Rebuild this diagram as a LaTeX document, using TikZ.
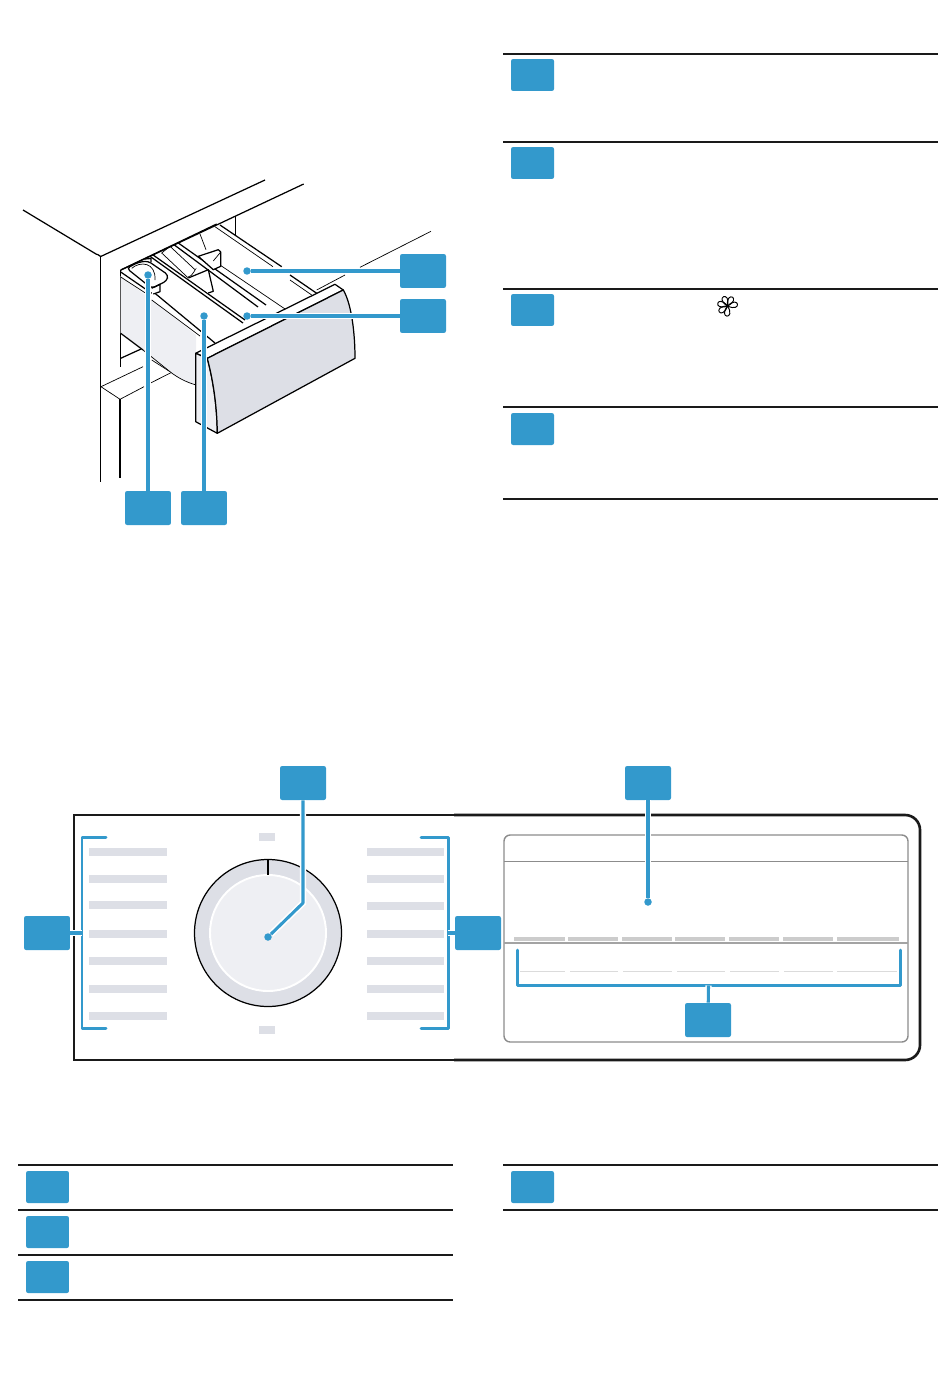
\documentclass[tikz,border=0pt]{standalone}
\usepackage{tikz}
\usetikzlibrary{arrows.meta, positioning, calc}
\definecolor{leadBlue}{HTML}{3399CC}
\definecolor{inkDark}{HTML}{1A1A1A}
\definecolor{paleGray}{HTML}{EEEFF3}
\definecolor{midGray}{HTML}{DDDFE6}
\definecolor{dispGray}{HTML}{8C8C8C}
\definecolor{barGray}{HTML}{CCCCCC}
\tikzset{
  badge/.style={rectangle, rounded corners=1.2pt, fill=leadBlue, inner sep=0pt,
                minimum width=.92cm, minimum height=.68cm},
  badgeS/.style={badge, minimum width=.86cm, minimum height=.64cm},
  leadDot/.style={circle, fill=leadBlue, inner sep=0pt, minimum size=.15cm},
  leadLine/.style={draw=leadBlue, line width=1.75pt, line join=round,
                   preaction={draw=white, line width=3.6pt}},
  bracketLine/.style={draw=leadBlue, line width=1.7pt, line join=round, line cap=round},
  tableRule/.style={draw=inkDark, line width=1.2pt},
  ink/.style={draw=black, line width=.7pt, line join=round},
  inkThin/.style={draw=black, line width=.4pt},
  listBar/.style={fill=midGray, draw=none},
  panelLine/.style={draw=inkDark, line width=1.5pt},
  dispLine/.style={draw=dispGray, line width=.8pt},
}
\begin{document}
\begin{tikzpicture}[x=.02cm, y=-.02cm]
  \useasboundingbox (0,0) rectangle (950,1392);

  % cabinet and shelf
  \draw[ink] (23,210) -- (96,254) to[out=30,in=180] (100.7,256.5) -- (265,180);
  \draw[ink] (100.7,256.5) -- (100.7,482);
  \draw[ink] (121,270) -- (303.7,184);
  \draw[ink] (235.7,216) -- (235.7,235);
  \draw[inkThin] (431,231.3) -- (360,267.3);
  \draw[inkThin] (345,275) -- (316.7,290);
  \draw[ink] (120.7,270) -- (120.7,367);
  \draw[ink] (120.7,358.3) -- (143.3,348);
  \draw[inkThin] (101,386.7) -- (120,399.3) -- (144,386.7);
  \draw[inkThin] (101,386.7) -- (143,366.7);
  \draw[inkThin] (150,383.3) -- (171.7,372.3);
  \draw[inkThin] (151.7,360) -- (170,371.7);
  \draw[ink] (120,399.3) -- (120,478.3);

  % drawer side
  \fill[paleGray] (120.7,276) -- (120.7,333.3) -- (170,371.7)
    .. controls (178,378) and (186,382) .. (196,385) -- (196,335) -- (151.7,300) -- cycle;
  \draw[ink] (120.7,333.3) -- (143,350);
  \draw[inkThin] (143,350) -- (170,371.7)
    .. controls (178,378) and (186,382) .. (196,385);

  % tray top
  \draw[ink] (120.7,270) -- (216.7,224);
  \draw[ink] (120.7,272) -- (151.7,293.3);
  \draw[inkThin] (120.7,277) -- (150,296);
  \draw[ink] (155,293.3) -- (215,343);
  \draw[inkThin] (151.7,300) -- (200,336);
  \draw[ink] (220,225) -- (281.7,266.7);
  \draw[ink] (290,275) -- (316.7,293.3);
  \draw[inkThin] (215,226.7) -- (273,266.7);
  \draw[inkThin] (290,280) -- (311.7,295);
  \draw[inkThin] (220,265) -- (285,309);
  \draw[ink] (178.3,243) -- (266,305);
  \draw[ink] (174,244.7) -- (258,307);
  \draw[ink] (152.7,254.7) -- (245,320);
  \draw[ink] (150,256.3) -- (243,323);

  % softener cover and flap
  \draw[inkThin] (161.7,253) -- (170,246.3) -- (195,269.7) to[out=60,in=0] (188.3,277);
  \draw[inkThin] (161.7,253) -- (188.3,278);
  \draw[ink, fill=white] (188.3,278) -- (208.3,269.7) -- (213.3,291.3) -- (208.3,293);
  \draw[inkThin] (200,234) -- (206,249.7);
  \draw[ink, fill=white] (198.3,256.3) -- (218.3,249.7) -- (220.7,252) -- (220.7,266.3) -- (213.3,269.7) -- cycle;
  \draw[inkThin] (213.3,261) -- (220.7,252);

  % detergent insert
  \draw[ink, rounded corners=2pt] (126.7,268.3) -- (138.3,262.3) -- (148,261) -- (168.3,275) -- (166.7,281) -- (151.7,288.3) -- cycle;
  \draw[inkThin] (131.7,268.3) .. controls (140,261) and (156,262) .. (155,280);
  \draw[ink] (145,259) -- (151,258.5) -- (151,262);
  \draw[ink] (151.7,288.3) -- (160,284.3) -- (160,291.7) -- (153.3,294);

  % drawer front
  \draw[ink, fill=white] (195.7,353.3) -- (335,284.3) -- (343.3,290) -- (207.3,358.3) -- cycle;
  \draw[ink, fill=paleGray] (195.7,353.3) -- (207.3,358.3)
    .. controls (213,380) and (217,405) .. (217.3,433.3) -- (195.7,421.7) -- cycle;
  \draw[ink, fill=midGray] (207.3,358.3) -- (343.3,290)
    .. controls (352,305) and (355,335) .. (355,358.3) -- (217.3,433.3)
    .. controls (217,405) and (213,380) .. (207.3,358.3) -- cycle;

  % control panel
  \draw[panelLine] (454,815) -- (74,815) -- (74,1060) -- (454,1060);
  \draw[panelLine, rounded corners=8.5pt] (454,815) -- (920,815) -- (920,1060) -- (454,1060);
  \fill[listBar] (259,833) rectangle (275,841);
  \fill[listBar] (259,1026) rectangle (275,1034);
  \foreach \yy in {852,879,905,934,961,989,1016} {
    \fill[listBar] (89,\yy-4) rectangle (167,\yy+4);
  }
  \foreach \yy in {852,879,906,934,961,989,1016} {
    \fill[listBar] (367,\yy-4) rectangle (444,\yy+4);
  }

  % dial
  \draw[ink, fill=midGray] (268,933) circle[radius=73.5];
  \draw[draw=white, line width=1.1pt, fill=paleGray] (268,933) circle[radius=58];
  \draw[draw=black, line width=1.3pt] (268,859.5) -- (268,875);

  % display
  \draw[dispLine, rounded corners=3.5pt] (504,835) rectangle (908,1042);
  \draw[dispLine] (504,861.5) -- (908,861.5);
  \draw[dispLine, draw=dispGray!80] (504,943) -- (908,943);
  \foreach \xa/\xb in {514/565,568/618,622/672,675/725,729/779,783/833,837/899} {
    \fill[barGray] (\xa,937) rectangle (\xb,941);
  }
  \foreach \xa/\xb in {520/565,570/618,623/672,677/725,730/779,784/833,837/897} {
    \draw[draw=barGray!70, line width=.4pt] (\xa,971) -- (\xb,971);
  }

  % tables
  \foreach \yy in {54,142,289,407,499} {
    \draw[tableRule] (503,\yy) -- (938,\yy);
  }
  \foreach \yy in {1165,1210,1255,1300} {
    \draw[tableRule] (18,\yy) -- (453,\yy);
  }
  \foreach \yy in {1165,1210} {
    \draw[tableRule] (503,\yy) -- (938,\yy);
  }
  \node[badgeS] (t1) at (532.5,75) {};
  \node[badgeS] (t2) at (532.5,163) {};
  \node[badgeS] (t3) at (532.5,310) {};
  \node[badgeS] (t4) at (532.5,429) {};
  \node[badgeS] (b1) at (47.5,1187) {};
  \node[badgeS] (b2) at (47.5,1232) {};
  \node[badgeS] (b3) at (47.5,1277) {};
  \node[badgeS] (b4) at (532.5,1187) {};

  % flower symbol
  \foreach \ang in {0,51.43,...,308} {
    \draw[draw=black, line width=.55pt, rotate around={\ang+10:(727.5,306)}]
      (727.5,306) .. controls (741,296.5) and (741,315.5) .. (727.5,306);
  }

  % drawer callouts
  \node[badge] (softener) at (423,271) {};
  \node[badge] (mainwash) at (423,316) {};
  \node[badge] (insert) at (148,508) {};
  \node[badge] (prewash) at (204,508) {};
  \node[leadDot] (softenerDot) at (247,271) {};
  \node[leadDot] (mainwashDot) at (247,316) {};
  \node[leadDot] (insertDot) at (148,275) {};
  \node[leadDot] (prewashDot) at (204,316) {};
  \draw[leadLine] (softenerDot) -- (softener);
  \draw[leadLine] (mainwashDot) -- (mainwash);
  \draw[leadLine] (insertDot) -- (insert);
  \draw[leadLine] (prewashDot) -- (prewash);

  % panel callouts
  \node[badge] (dial) at (303,783) {};
  \node[badge] (screen) at (648,783) {};
  \node[badge] (listL) at (47,933) {};
  \node[badge] (listR) at (478,933) {};
  \node[badge] (keys) at (708,1020) {};
  \node[leadDot] (dialDot) at (268,937) {};
  \node[leadDot] (screenDot) at (648,902) {};
  \coordinate (dialBend) at (303,903);
  \draw[leadLine] (dial) -- (dialBend) -- (dialDot);
  \draw[leadLine] (screen) -- (screenDot);

  % brackets
  \coordinate (listLj) at (82,933);
  \coordinate (listRj) at (448,933);
  \coordinate (keysj) at (708.5,985.5);
  \draw[bracketLine] (106,837) -- (82,837) -- (82,1028) -- (106,1028);
  \draw[bracketLine] (421,837) -- (448,837) -- (448,1028) -- (421,1028);
  \draw[bracketLine] (517,950) -- (517,985.5) -- (900.5,985.5) -- (900.5,950);
  \draw[leadLine] (listL) -- (listLj);
  \draw[leadLine] (listR) -- (listRj);
  \draw[leadLine] (keys) -- (keysj);
\end{tikzpicture}
\end{document}
